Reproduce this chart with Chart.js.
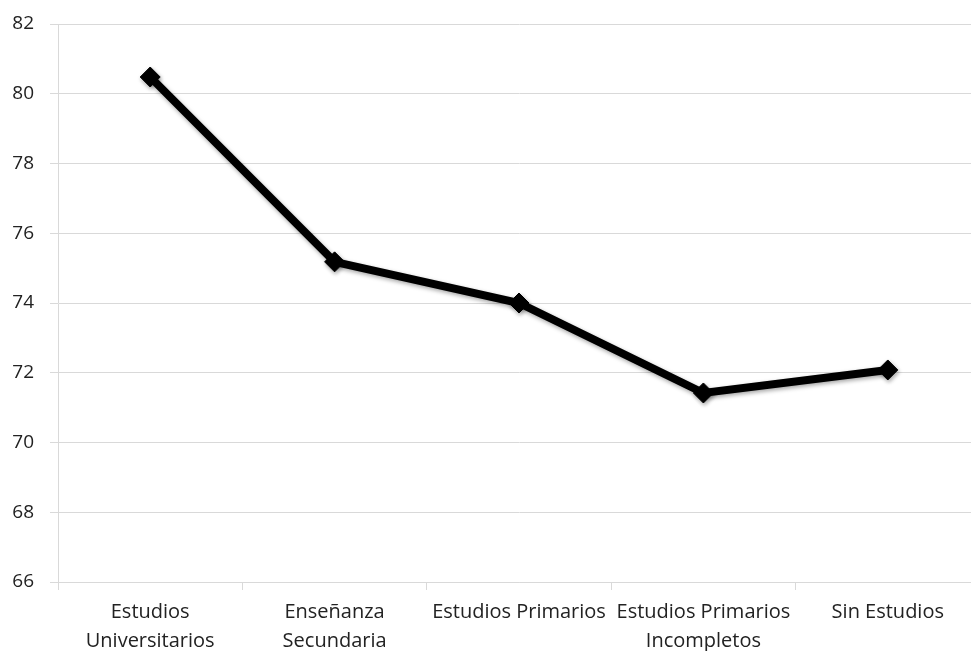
<!DOCTYPE html>
<html>
<head>
<meta charset="utf-8">
<script src="https://cdn.jsdelivr.net/npm/chart.js@4"></script>
<style>
  html, body { margin: 0; padding: 0; background: #fff; overflow: hidden; }
  /* the plot runs a little past the right edge of the window, as in the source image */
  #wrap { width: 980px; height: 651px; }
</style>
</head>
<body>
<div id="wrap"><canvas id="chart" width="980" height="651"></canvas></div>
<script>
// ====== DATA ======
const categories = [
    ['Estudios', 'Universitarios'],
    ['Enseñanza', 'Secundaria'],
    ['Estudios Primarios'],
    ['Estudios Primarios', 'Incompletos'],
    ['Sin Estudios']
];
const values = [80.48, 75.18, 74.0, 71.42, 72.08];
const yMin = 66, yMax = 82, yStep = 2;

// soft shadow under line and markers
const shadowPlugin = {
    id: 'shadow',
    beforeDatasetDraw(chart) {
        const ctx = chart.ctx;
        ctx.save();
        ctx.shadowColor = 'rgba(0,0,0,0.35)';
        ctx.shadowBlur = 4;
        ctx.shadowOffsetX = 1;
        ctx.shadowOffsetY = 2;
    },
    afterDatasetDraw(chart) {
        chart.ctx.restore();
    }
};

const ctx = document.getElementById('chart').getContext('2d');
new Chart(ctx, {
    type: 'line',
    data: {
        labels: categories,
        datasets: [{
            data: values,
            borderColor: '#000',
            backgroundColor: '#000',
            borderWidth: 8,
            pointStyle: 'rectRot',
            pointRadius: 10,
            pointHoverRadius: 10,
            pointBackgroundColor: '#000',
            pointBorderColor: '#000',
            pointBorderWidth: 1,
            tension: 0,
            fill: false
        }]
    },
    options: {
        responsive: false,
        animation: false,
        layout: { autoPadding: false, padding: { top: 24, right: 0, left: 0, bottom: 0 } },
        plugins: { legend: { display: false }, tooltip: { enabled: false } },
        scales: {
            x: {
                offset: true,
                grid: { offset: true, color: '#d9d9d9', lineWidth: 1, drawOnChartArea: false, tickLength: 8 },
                border: { color: '#d9d9d9' },
                ticks: {
                    autoSkip: false, maxRotation: 0, minRotation: 0,
                    color: '#222', padding: 8,
                    font: { family: 'Open Sans', size: 20, lineHeight: 1.45 }
                },
                afterFit(scale) {
                    scale.height = 69;
                    scale.paddingLeft = 0;
                    scale.paddingRight = 0;
                }
            },
            y: {
                min: yMin, max: yMax,
                grid: { color: '#d9d9d9', lineWidth: 1, tickLength: 8 },
                border: { color: '#d9d9d9' },
                ticks: {
                    stepSize: yStep, color: '#222', padding: 16,
                    font: { family: 'Open Sans', size: 19 }
                },
                afterFit(scale) {
                    scale.width = 58;
                    scale.paddingTop = 0;
                    scale.paddingBottom = 0;
                }
            }
        }
    },
    plugins: [shadowPlugin]
});
</script>
</body>
</html>
